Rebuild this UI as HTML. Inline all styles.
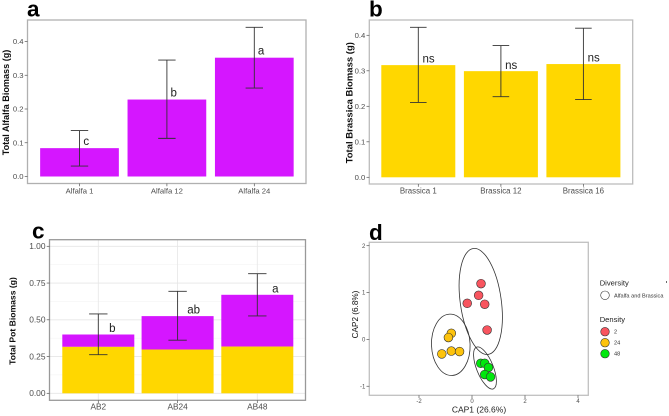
<!DOCTYPE html>
<html>
<head>
<meta charset="utf-8">
<style>
html,body{margin:0;padding:0;background:#fff;width:669px;height:416px;overflow:hidden}
svg{display:block;font-family:"Liberation Sans",sans-serif}
</style>
</head>
<body>
<svg id="fig" width="669" height="416" viewBox="0 0 669 416" xmlns="http://www.w3.org/2000/svg">
<defs><filter id="soft" x="-5%" y="-5%" width="110%" height="110%"><feGaussianBlur stdDeviation="0.35"/></filter></defs>
<g id="root" filter="url(#soft)"></g>
</svg>
<script>
var alfalfaCategories = ['Alfalfa 1', 'Alfalfa 12', 'Alfalfa 24'];
var alfalfaValues = [0.084, 0.228, 0.352];
var alfalfaErrLow = [0.031, 0.113, 0.262];
var alfalfaErrHigh = [0.136, 0.345, 0.442];
var alfalfaLetters = ['c', 'b', 'a'];
var alfalfaTicks = [0, 0.1, 0.2, 0.3, 0.4];

var brassicaCategories = ['Brassica 1', 'Brassica 12', 'Brassica 16'];
var brassicaValues = [0.316, 0.299, 0.319];
var brassicaErrLow = [0.211, 0.227, 0.219];
var brassicaErrHigh = [0.4225, 0.371, 0.42];
var brassicaLetters = ['ns', 'ns', 'ns'];
var brassicaTicks = [0, 0.1, 0.2, 0.3, 0.4];

var potCategories = ['AB2', 'AB24', 'AB48'];
var potBrassica = [0.316, 0.298, 0.318];
var potTotal = [0.40, 0.525, 0.67];
var potErrLow = [0.263, 0.361, 0.526];
var potErrHigh = [0.54, 0.694, 0.814];
var potLetters = ['b', 'ab', 'a'];
var potTicks = [0, 0.25, 0.5, 0.75, 1];

var capX2 = [0.34, 0.25, -0.18, 0.48, 0.57];
var capY2 = [1.19, 0.94, 0.77, 0.75, 0.20];
var capX24 = [-0.78, -0.89, -0.78, -0.47, -1.14];
var capY24 = [0.13, 0.04, -0.25, -0.26, -0.31];
var capX48 = [0.33, 0.48, 0.62, 0.48, 0.70];
var capY48 = [-0.51, -0.51, -0.60, -0.75, -0.80];
var capXTicks = [-2, 0, 2, 4];
var capYTicks = [-1, 0, 1, 2];
var densityLabels = ['2', '24', '48'];

var PURPLE = '#d512ff', YELLOW = '#ffd700', INK = '#333333', TICK = '#4d4d4d';
var NS = 'http://www.w3.org/2000/svg';
var root = document.getElementById('root');

function mk(tag, attrs, text) {
  var n = document.createElementNS(NS, tag);
  for (var k in attrs) n.setAttribute(k, attrs[k]);
  if (text !== undefined) n.textContent = text;
  root.appendChild(n);
  return n;
}
function frame(name, x0, x1, y0, y1, stroke) {
  var el = mk('rect', {x: x0, y: y0, width: x1 - x0, height: y1 - y0, fill: 'none', stroke: stroke, 'stroke-width': 1.3});
  
  
}
function yTicks(name, ticks, fy, x0, fmt, size) {
  ticks.forEach(function (t) {
    var el = mk('line', {x1: x0 - 2.8, x2: x0, y1: fy(t), y2: fy(t), stroke: '#555', 'stroke-width': 0.7});
    
    
    var lb = mk('text', {x: x0 - 4, y: fy(t) + size * 0.35, 'text-anchor': 'end', 'font-size': size, fill: TICK}, fmt(t));
    
    
  });
}
function xTick(name, x, y1, label, size, baseline) {
  var el = mk('line', {x1: x, x2: x, y1: y1, y2: y1 + 2.8, stroke: '#555', 'stroke-width': 0.7});
  
  
  var lb = mk('text', {x: x, y: baseline, 'text-anchor': 'middle', 'font-size': size, fill: TICK}, label);
  
  
}
function yTitle(name, x, y, label, size, weight) {
  var el = mk('text', {x: x, y: y, transform: 'rotate(-90 ' + x + ' ' + y + ')', 'text-anchor': 'middle', 'font-size': size, 'font-weight': weight, fill: '#111'}, label);
  
  
}
function panelLetter(letter, x, y, size) {
  var el = mk('text', {x: x, y: y, 'font-size': size, 'font-weight': 'bold', fill: '#000'}, letter);
  
  
}
function errorBar(name, x, yHigh, yLow, cap) {
  var a = mk('line', {x1: x, x2: x, y1: yHigh, y2: yLow, stroke: INK, 'stroke-width': 0.9});
  
  
  [yHigh, yLow].forEach(function (yy) {
    var c = mk('line', {x1: x - cap, x2: x + cap, y1: yy, y2: yy, stroke: INK, 'stroke-width': 0.9});
    
    
  });
}
function sigLetter(name, x, y, label) {
  var el = mk('text', {x: x, y: y, 'text-anchor': 'middle', 'font-size': 11.5, fill: '#222'}, label);
  
  
}
function barRect(name, x, w, yTop, yBase, color) {
  var el = mk('rect', {x: x - w / 2, y: yTop, width: w, height: yBase - yTop, fill: color});
  
  
}

/* panel a */
(function () {
  var xs = [79.5, 166.9, 254.3], w = 78.7;
  var fy = function (v) { return 176.5 - v * 337.5; };
  frame('alfalfa', 27.5, 306, 20, 183.5, '#b0b0b0');
  alfalfaValues.forEach(function (v, i) {
    barRect('alfalfa-bar-' + (i + 1), xs[i], w, fy(v), fy(0), PURPLE);
  });
  alfalfaValues.forEach(function (v, i) {
    errorBar('alfalfa-' + (i + 1), xs[i], fy(alfalfaErrHigh[i]), fy(alfalfaErrLow[i]), 8.7);
    sigLetter('alfalfa-' + (i + 1), xs[i] + 6.8, fy(v) - 3, alfalfaLetters[i]);
    xTick('alfalfa', xs[i], 183.5, alfalfaCategories[i], 7.7, 193.3);
  });
  yTicks('alfalfa', alfalfaTicks, fy, 27.5, function (t) { return t.toFixed(1); }, 7.7);
  yTitle('alfalfa', 9, 102.5, 'Total Alfalfa Biomass (g)', 9.1, 'bold');
  panelLetter('a', 27, 16.7, 22.5);
})();

/* panel b */
(function () {
  var xs = [418.3, 500.9, 583.4], w = 74;
  var fy = function (v) { return 177.3 - v * 355; };
  frame('brassica', 369.3, 632.7, 20, 184, '#bcbcbc');
  brassicaValues.forEach(function (v, i) {
    barRect('brassica-bar-' + (i + 1), xs[i], w, fy(v), fy(0), YELLOW);
  });
  brassicaValues.forEach(function (v, i) {
    errorBar('brassica-' + (i + 1), xs[i], fy(brassicaErrHigh[i]), fy(brassicaErrLow[i]), 8.3);
    sigLetter('brassica-' + (i + 1), xs[i] + 10.3, fy(v) - 2.4, brassicaLetters[i]);
    xTick('brassica', xs[i], 184, brassicaCategories[i], 7.9, 193.5);
  });
  yTicks('brassica', brassicaTicks, fy, 369.3, function (t) { return t.toFixed(1); }, 7.7);
  yTitle('brassica', 352.5, 102.7, 'Total Brassica Biomass (g)', 9.5, 'bold');
  panelLetter('b', 369, 16.7, 22.5);
})();

/* panel c */
(function () {
  var xs = [98.3, 177.6, 257.3], w = 72;
  var fy = function (v) { return 393.3 - v * 147; };
  [0.125, 0.375, 0.625, 0.875].forEach(function (t) {
    var el = mk('line', {x1: 49.5, x2: 305.5, y1: fy(t), y2: fy(t), stroke: '#f2f2f2', 'stroke-width': 0.5});
    
    
  });
  potTicks.forEach(function (t) {
    var el = mk('line', {x1: 49.5, x2: 305.5, y1: fy(t), y2: fy(t), stroke: '#e6e6e6', 'stroke-width': 0.8});
    
    
  });
  xs.forEach(function (x) {
    var el = mk('line', {x1: x, x2: x, y1: 239.7, y2: 400.3, stroke: '#e6e6e6', 'stroke-width': 0.8});
    
    
  });
  frame('pot', 49.5, 305.5, 239.7, 400.3, '#999999');
  var dx = [14, 16, 18];
  potTotal.forEach(function (v, i) {
    barRect('pot-alfalfa-bar-' + (i + 1), xs[i], w, fy(v), fy(potBrassica[i]), PURPLE);
    barRect('pot-brassica-bar-' + (i + 1), xs[i], w, fy(potBrassica[i]), fy(0), YELLOW);
  });
  potTotal.forEach(function (v, i) {
    errorBar('pot-' + (i + 1), xs[i], fy(potErrHigh[i]), fy(potErrLow[i]), 9.2);
    sigLetter('pot-' + (i + 1), xs[i] + dx[i], fy(v) - 2.4, potLetters[i]);
    xTick('pot', xs[i], 400.3, potCategories[i], 8.3, 409.3);
  });
  yTicks('pot', potTicks, fy, 49.5, function (t) { return t.toFixed(2); }, 8.4);
  yTitle('pot', 15.5, 321, 'Total Pot Biomass (g)', 8.6, 'bold');
  panelLetter('c', 32, 238.7, 22.5);
})();

/* panel d */
(function () {
  var fx = function (v) { return 472 + v * 26.5; };
  var fy = function (v) { return 339.4 - v * 46.85; };
  frame('ordination', 369.3, 588.3, 242.3, 395.3, '#c0c0c0');
  var ell = [
    {name: 'density-2-ellipse', cx: 0.33, cy: 0.81, rx: 20.5, ry: 53.5, rot: -8},
    {name: 'density-24-ellipse', cx: -0.8, cy: -0.115, rx: 19.3, ry: 30.7, rot: -2},
    {name: 'density-48-ellipse', cx: 0.49, cy: -0.61, rx: 8.3, ry: 22.5, rot: -22}
  ];
  ell.forEach(function (e) {
    var px = fx(e.cx), py = fy(e.cy);
    var el = mk('ellipse', {cx: px, cy: py, rx: e.rx, ry: e.ry, fill: 'none', stroke: '#333', 'stroke-width': 0.8, transform: 'rotate(' + e.rot + ' ' + px + ' ' + py + ')'});
    
    
  });
  var groups = [
    {n: 'density-2-point', xs: capX2, ys: capY2, c: '#f8545f'},
    {n: 'density-24-point', xs: capX24, ys: capY24, c: '#fdc30a'},
    {n: 'density-48-point', xs: capX48, ys: capY48, c: '#05e80a'}
  ];
  groups.forEach(function (g) {
    g.xs.forEach(function (x, i) {
      var el = mk('circle', {cx: fx(x), cy: fy(g.ys[i]), r: 4.4, fill: g.c, stroke: '#333', 'stroke-width': 0.6});
      
      
    });
  });
  capXTicks.forEach(function (t) { xTick('ordination', fx(t), 395.3, String(t), 6, 403); });
  yTicks('ordination', capYTicks, fy, 369.3, String, 6);
  yTitle('ordination', 358, 314.5, 'CAP2 (6.8%)', 8.2, 'normal');
  var xt = mk('text', {x: 479, y: 412.3, 'text-anchor': 'middle', 'font-size': 8.5, fill: '#222'}, 'CAP1 (26.6%)');
  
  
  panelLetter('d', 369, 240, 22.5);

  var t1 = mk('text', {x: 599.7, y: 285.5, 'font-size': 7.6, fill: '#222'}, 'Diversity');
  
  
  var k1 = mk('circle', {cx: 605, cy: 295.3, r: 4.3, fill: '#fff', stroke: '#333', 'stroke-width': 0.6});
  
  
  var l1 = mk('text', {x: 614, y: 297.3, 'font-size': 5.6, fill: '#333'}, 'Alfalfa and Brassica');
  
  
  var mark = mk('rect', {x: 666, y: 281, width: 0.8, height: 2, fill: '#444'});
  
  
  var t2 = mk('text', {x: 599.7, y: 322, 'font-size': 7.6, fill: '#222'}, 'Density');
  
  
  densityLabels.forEach(function (lab, i) {
    var yy = 331.7 + i * 11;
    var k = mk('circle', {cx: 605, cy: yy, r: 4.3, fill: groups[i].c, stroke: '#333', 'stroke-width': 0.6});
    
    
    var l = mk('text', {x: 614, y: yy + 2, 'font-size': 5.6, fill: '#333'}, lab);
    
    
  });
})();
</script>
</body>
</html>
